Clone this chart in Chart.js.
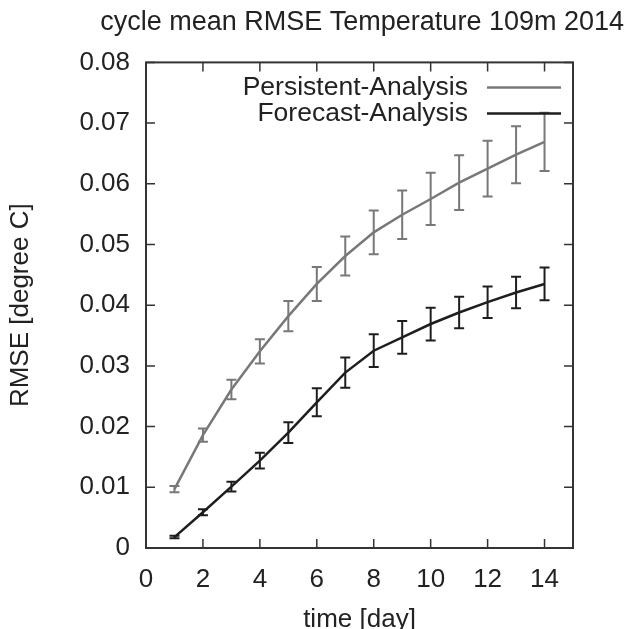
<!DOCTYPE html>
<html>
<head>
<meta charset="utf-8">
<script src="https://cdn.jsdelivr.net/npm/chart.js@4"></script>
<style>
  html, body { margin: 0; padding: 0; background: #fff; }
  #wrap { width: 629px; height: 629px; }
</style>
</head>
<body>
<div id="wrap"><canvas id="rmseChart"></canvas></div>
<script>
// data
const days = [1, 2, 3, 4, 5, 6, 7, 8, 9, 10, 11, 12, 13, 14];
const persistMean = [0.0097, 0.0186, 0.0261, 0.0324, 0.0382, 0.0435, 0.0481, 0.0520, 0.0549, 0.0575, 0.0602, 0.0625, 0.0648, 0.0669];
const persistErr = [0.0005, 0.0011, 0.0016, 0.0020, 0.0025, 0.0028, 0.0032, 0.0036, 0.0040, 0.0043, 0.0045, 0.0046, 0.0047, 0.0048];
const forecastMean = [0.0018, 0.0059, 0.0101, 0.0144, 0.0190, 0.0240, 0.0289, 0.0325, 0.0347, 0.0369, 0.0388, 0.0405, 0.0421, 0.0435];
const forecastErr = [0.0002, 0.0005, 0.0008, 0.0013, 0.0017, 0.0023, 0.0025, 0.0027, 0.0027, 0.0027, 0.0026, 0.0026, 0.0026, 0.0027];
const xTicks = [0, 2, 4, 6, 8, 10, 12, 14];
const yTicks = [0, 0.01, 0.02, 0.03, 0.04, 0.05, 0.06, 0.07, 0.08];

const FONT = '"Liberation Sans", Arial, sans-serif';
const INK = '#222';

function toPoints(xs, ys) {
    return xs.map((x, i) => ({ x, y: ys[i] }));
}

// gnuplot style frame with inward ticks on all four sides
const framePlugin = {
    id: 'frame',
    afterDraw(chart) {
        const { ctx, chartArea: a, scales } = chart;
        const len = 9;
        ctx.save();
        ctx.strokeStyle = '#333';
        ctx.lineWidth = 1.5;
        ctx.beginPath();
        xTicks.forEach(v => {
            const px = scales.x.getPixelForValue(v);
            ctx.moveTo(px, a.bottom); ctx.lineTo(px, a.bottom - len);
            ctx.moveTo(px, a.top); ctx.lineTo(px, a.top + len);
        });
        yTicks.forEach(v => {
            const py = scales.y.getPixelForValue(v);
            ctx.moveTo(a.left, py); ctx.lineTo(a.left + len, py);
            ctx.moveTo(a.right, py); ctx.lineTo(a.right - len, py);
        });
        ctx.stroke();
        ctx.lineWidth = 2;
        ctx.strokeRect(a.left, a.top, a.right - a.left, a.bottom - a.top);
        ctx.restore();
    }
};

// vertical error bars with caps
const errorBarPlugin = {
    id: 'errorBars',
    afterDatasetsDraw(chart) {
        const { ctx, scales } = chart;
        const cap = 5;
        chart.data.datasets.forEach(ds => {
            if (!ds.errors) return;
            ctx.save();
            ctx.strokeStyle = ds.borderColor;
            ctx.lineWidth = 2;
            ctx.beginPath();
            ds.data.forEach((p, i) => {
                const px = scales.x.getPixelForValue(p.x);
                const top = scales.y.getPixelForValue(p.y + ds.errors[i]);
                const bot = scales.y.getPixelForValue(p.y - ds.errors[i]);
                ctx.moveTo(px, top); ctx.lineTo(px, bot);
                ctx.moveTo(px - cap, top); ctx.lineTo(px + cap, top);
                ctx.moveTo(px - cap, bot); ctx.lineTo(px + cap, bot);
            });
            ctx.stroke();
            ctx.restore();
        });
    }
};

// key in the top right corner: right aligned text, line sample after it
const keyPlugin = {
    id: 'key',
    afterDraw(chart) {
        const { ctx, chartArea: a } = chart;
        ctx.save();
        ctx.font = '26.5px ' + FONT;
        ctx.textAlign = 'right';
        ctx.textBaseline = 'middle';
        chart.data.datasets.forEach((ds, i) => {
            const y = a.top + 25 + i * 26;
            ctx.fillStyle = INK;
            ctx.fillText(ds.label, a.right - 105, y);
            ctx.strokeStyle = ds.borderColor;
            ctx.lineWidth = 2.5;
            ctx.beginPath();
            ctx.moveTo(a.right - 86, y);
            ctx.lineTo(a.right - 12, y);
            ctx.stroke();
        });
        ctx.restore();
    }
};

function renderChart() {
    const ctx = document.getElementById('rmseChart');
    new Chart(ctx, {
        type: 'line',
        data: {
            datasets: [
                {
                    label: 'Persistent-Analysis',
                    data: toPoints(days, persistMean),
                    errors: persistErr,
                    borderColor: '#787878',
                    borderWidth: 2.5,
                    pointRadius: 0,
                    tension: 0
                },
                {
                    label: 'Forecast-Analysis',
                    data: toPoints(days, forecastMean),
                    errors: forecastErr,
                    borderColor: '#1e1e1e',
                    borderWidth: 2.5,
                    pointRadius: 0,
                    tension: 0
                }
            ]
        },
        options: {
            responsive: true,
            maintainAspectRatio: false,
            animation: false,
            layout: { padding: { left: 0, right: 5, top: 0, bottom: 0 } },
            plugins: {
                legend: { display: false },
                tooltip: { enabled: false },
                title: {
                    display: true,
                    text: 'cycle mean RMSE Temperature 109m 2014',
                    align: 'end',
                    color: INK,
                    font: { family: FONT, size: 27, weight: 'normal' },
                    padding: { top: 6, bottom: 24 }
                }
            },
            scales: {
                x: {
                    type: 'linear',
                    min: 0,
                    max: 15,
                    grid: { display: false },
                    border: { display: false },
                    afterBuildTicks: scale => { scale.ticks = xTicks.map(v => ({ value: v })); },
                    afterFit: scale => { scale.height = 81; },
                    ticks: {
                        color: INK,
                        padding: 8,
                        maxRotation: 0,
                        font: { family: FONT, size: 26 }
                    },
                    title: {
                        display: true,
                        text: 'time [day]',
                        color: INK,
                        font: { family: FONT, size: 26 },
                        padding: { top: 0, bottom: -6 }
                    }
                },
                y: {
                    min: 0,
                    max: 0.08,
                    grid: { display: false },
                    border: { display: false },
                    afterBuildTicks: scale => { scale.ticks = yTicks.map(v => ({ value: v })); },
                    afterFit: scale => { scale.width = 146; },
                    ticks: {
                        color: INK,
                        padding: 8,
                        font: { family: FONT, size: 26 },
                        callback: v => v === 0 ? '0' : v.toFixed(2)
                    },
                    title: {
                        display: true,
                        text: 'RMSE [degree C]',
                        color: INK,
                        font: { family: FONT, size: 26 },
                        padding: { top: 5, bottom: 0 }
                    }
                },
                // empty right-hand strip so the plot ends where the reference's does
                yRight: {
                    display: true,
                    position: 'right',
                    min: 0,
                    max: 0.08,
                    grid: { display: false },
                    border: { display: false },
                    ticks: { display: false },
                    afterFit: scale => { scale.width = 51; }
                }
            }
        },
        plugins: [errorBarPlugin, framePlugin, keyPlugin]
    });
}

document.addEventListener('DOMContentLoaded', renderChart);
</script>
</body>
</html>
